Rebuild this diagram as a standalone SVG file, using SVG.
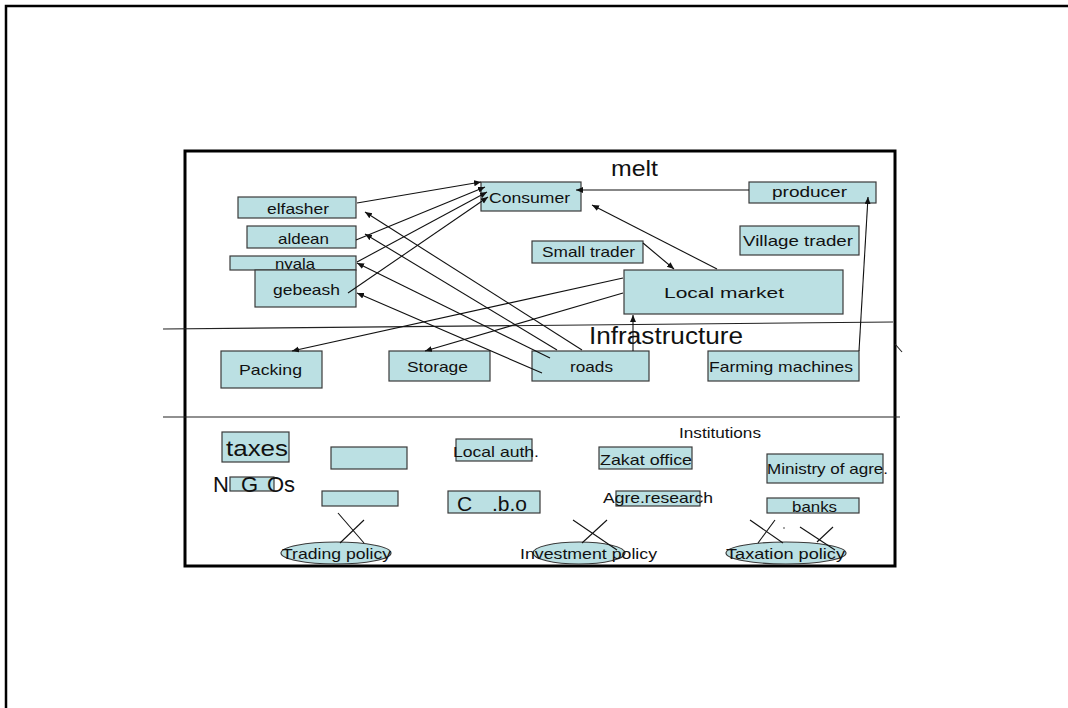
<svg xmlns="http://www.w3.org/2000/svg" width="1068" height="708" viewBox="0 0 1068 708">
  <style>
    .box { fill: #bbe0e3; stroke: #3a3a3a; stroke-width: 1.2; }
    .t { font-family: "Liberation Sans", Arial, sans-serif; fill: #111; }
    .c { stroke: #111; stroke-width: 1.1; fill: none; }
    .rule { stroke: #222; stroke-width: 1.1; fill: none; }
    .frame { stroke: #000; stroke-width: 3; fill: none; }
  </style>
  <defs>
    <marker id="arr" markerUnits="userSpaceOnUse" markerWidth="9" markerHeight="7" refX="7" refY="3" orient="auto">
      <path d="M0,0 L7,3 L0,6 z" fill="#111"/>
    </marker>
  </defs>
  <rect width="1068" height="708" fill="#fff"/>

  <!-- page frame -->
  <path d="M6,708 V6 H1068" fill="none" stroke="#000" stroke-width="2.5"/>

  <!-- slide frame -->
  <rect class="frame" x="185" y="151" width="710" height="415"/>

  <!-- section rules -->
  <g id="rules">
    <line class="rule" x1="163" y1="329" x2="893" y2="322"/>
    <line class="rule" x1="163" y1="417" x2="900" y2="417"/>
    <line class="rule" x1="895" y1="344" x2="902" y2="352"/>
  </g>

  <!-- section titles -->
  <text class="t" x="611" y="176" font-size="22" textLength="47" lengthAdjust="spacingAndGlyphs">melt</text>
  <text class="t" x="589" y="344" font-size="23" textLength="154" lengthAdjust="spacingAndGlyphs">Infrastructure</text>
  <text class="t" x="679" y="438" font-size="14" textLength="82" lengthAdjust="spacingAndGlyphs">Institutions</text>

  <!-- market nodes -->
  <g id="elfasher"><rect class="box" x="238" y="197" width="118" height="21"/><text class="t" x="267" y="214" font-size="15" textLength="62" lengthAdjust="spacingAndGlyphs">elfasher</text></g>
  <g id="aldean"><rect class="box" x="247" y="226" width="109" height="22"/><text class="t" x="278" y="244" font-size="15" textLength="51" lengthAdjust="spacingAndGlyphs">aldean</text></g>
  <g id="nyala"><rect class="box" x="230" y="256" width="126" height="14"/><text class="t" x="275" y="269" font-size="15" textLength="40" lengthAdjust="spacingAndGlyphs">nyala</text></g>
  <g id="gebeash"><rect class="box" x="255" y="270" width="101" height="37"/><text class="t" x="273" y="295" font-size="15" textLength="67" lengthAdjust="spacingAndGlyphs">gebeash</text></g>
  <g id="consumer"><rect class="box" x="481" y="182" width="100" height="29"/><text class="t" x="489" y="203" font-size="15" textLength="81" lengthAdjust="spacingAndGlyphs">Consumer</text></g>
  <g id="producer"><rect class="box" x="749" y="182" width="127" height="21"/><text class="t" x="772" y="197" font-size="15" textLength="75" lengthAdjust="spacingAndGlyphs">producer</text></g>
  <g id="village-trader"><rect class="box" x="740" y="226" width="119" height="29"/><text class="t" x="743" y="246" font-size="15" textLength="110" lengthAdjust="spacingAndGlyphs">Village trader</text></g>
  <g id="small-trader"><rect class="box" x="532" y="241" width="111" height="22"/><text class="t" x="542" y="257" font-size="15" textLength="93" lengthAdjust="spacingAndGlyphs">Small trader</text></g>
  <g id="local-market"><rect class="box" x="624" y="270" width="219" height="44"/><text class="t" x="664" y="298" font-size="15" textLength="120" lengthAdjust="spacingAndGlyphs">Local market</text></g>

  <!-- infrastructure nodes -->
  <g id="packing"><rect class="box" x="221" y="351" width="101" height="37"/><text class="t" x="239" y="375" font-size="15" textLength="63" lengthAdjust="spacingAndGlyphs">Packing</text></g>
  <g id="storage"><rect class="box" x="389" y="351" width="101" height="30"/><text class="t" x="407" y="372" font-size="15" textLength="61" lengthAdjust="spacingAndGlyphs">Storage</text></g>
  <g id="roads"><rect class="box" x="532" y="351" width="117" height="30"/><text class="t" x="570" y="372" font-size="15" textLength="43" lengthAdjust="spacingAndGlyphs">roads</text></g>
  <g id="farming-machines"><rect class="box" x="708" y="351" width="151" height="30"/><text class="t" x="709" y="372" font-size="15" textLength="144" lengthAdjust="spacingAndGlyphs">Farming machines</text></g>

  <!-- institution nodes -->
  <g id="taxes"><rect class="box" x="222" y="432" width="67" height="30"/><text class="t" x="226" y="456" font-size="22" textLength="62" lengthAdjust="spacingAndGlyphs">taxes</text></g>
  <g id="blank-1"><rect class="box" x="331" y="447" width="76" height="22"/></g>
  <g id="ngos"><rect class="box" x="230" y="477" width="44" height="14"/><text class="t" x="213 229 241 257 267 284" y="492" font-size="22">N G Os</text></g>
  <g id="blank-2"><rect class="box" x="322" y="491" width="76" height="15"/></g>
  <g id="local-auth"><rect class="box" x="456" y="439" width="76" height="22"/><text class="t" x="453" y="457" font-size="15" textLength="86" lengthAdjust="spacingAndGlyphs">Local auth.</text></g>
  <g id="cbo"><rect class="box" x="448" y="491" width="92" height="22"/><text class="t" x="457 475 492" y="511" font-size="21">C .b.o</text></g>
  <g id="zakat-office"><rect class="box" x="599" y="447" width="93" height="22"/><text class="t" x="600" y="465" font-size="15" textLength="92" lengthAdjust="spacingAndGlyphs">Zakat office</text></g>
  <g id="agre-research"><rect class="box" x="616" y="491" width="84" height="15"/><text class="t" x="603" y="503" font-size="15" textLength="110" lengthAdjust="spacingAndGlyphs">Agre.research</text></g>
  <g id="ministry"><rect class="box" x="767" y="454" width="116" height="29"/><text class="t" x="767" y="474" font-size="15" textLength="121" lengthAdjust="spacingAndGlyphs">Ministry of agre.</text></g>
  <g id="banks"><rect class="box" x="767" y="498" width="92" height="15"/><text class="t" x="792" y="512" font-size="15" textLength="45" lengthAdjust="spacingAndGlyphs">banks</text></g>

  <!-- policy nodes -->
  <g id="trading-policy"><ellipse class="box" cx="336" cy="553" rx="55" ry="11"/><text class="t" x="282" y="559" font-size="15" textLength="109" lengthAdjust="spacingAndGlyphs">Trading policy</text></g>
  <g id="investment-policy"><ellipse class="box" cx="579" cy="553" rx="46" ry="11"/><text class="t" x="520" y="559" font-size="15" textLength="137" lengthAdjust="spacingAndGlyphs">Investment policy</text></g>
  <g id="taxation-policy"><ellipse class="box" cx="786" cy="553" rx="60" ry="11"/><text class="t" x="726" y="559" font-size="15" textLength="119" lengthAdjust="spacingAndGlyphs">Taxation policy</text></g>

  <!-- connectors -->
  <g id="connectors">
    <line class="c" x1="357" y1="203" x2="481" y2="182" marker-end="url(#arr)"/>
    <line class="c" x1="356" y1="240" x2="485" y2="187" marker-end="url(#arr)"/>
    <line class="c" x1="357" y1="262" x2="487" y2="192" marker-end="url(#arr)"/>
    <line class="c" x1="348" y1="293" x2="488" y2="197" marker-end="url(#arr)"/>
    <line class="c" x1="749" y1="190" x2="576" y2="190" marker-end="url(#arr)"/>
    <line class="c" x1="717" y1="269" x2="592" y2="205" marker-end="url(#arr)"/>
    <line class="c" x1="643" y1="243" x2="674" y2="269" marker-end="url(#arr)"/>
    <line class="c" x1="859" y1="351" x2="868" y2="197" marker-end="url(#arr)"/>
    <line class="c" x1="633" y1="351" x2="633" y2="315" marker-end="url(#arr)"/>
    <line class="c" x1="623" y1="278" x2="292" y2="351" marker-end="url(#arr)"/>
    <line class="c" x1="623" y1="293" x2="425" y2="351" marker-end="url(#arr)"/>
    <line class="c" x1="582" y1="350" x2="365" y2="212" marker-end="url(#arr)"/>
    <line class="c" x1="557" y1="350" x2="365" y2="234" marker-end="url(#arr)"/>
    <line class="c" x1="550" y1="358" x2="357" y2="263" marker-end="url(#arr)"/>
    <line class="c" x1="542" y1="373" x2="357" y2="293" marker-end="url(#arr)"/>
    <!-- crossed links above the policies -->
    <line class="c" x1="338" y1="513" x2="364" y2="543"/>
    <line class="c" x1="364" y1="520" x2="340" y2="543"/>
    <line class="c" x1="573" y1="520" x2="617" y2="550"/>
    <line class="c" x1="607" y1="520" x2="582" y2="543"/>
    <line class="c" x1="750" y1="520" x2="783" y2="543"/>
    <line class="c" x1="775" y1="520" x2="758" y2="543"/>
    <line class="c" x1="800" y1="527" x2="835" y2="550"/>
    <line class="c" x1="833" y1="527" x2="817" y2="542"/>
    <circle cx="784" cy="528" r="0.8" fill="#333"/>
  </g>
</svg>
